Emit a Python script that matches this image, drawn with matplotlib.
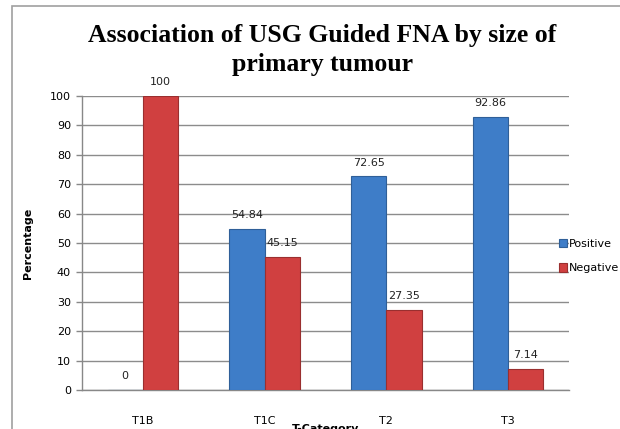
import matplotlib.pyplot as plt
import numpy as np
from matplotlib.patches import Rectangle

categories = ['T1B', 'T1C', 'T2', 'T3']
positive = [0, 54.84, 72.65, 92.86]
negative = [100, 45.15, 27.35, 7.14]
pos_labels = ['0', '54.84', '72.65', '92.86']
neg_labels = ['100', '45.15', '27.35', '7.14']

fig = plt.figure(figsize=(6.2, 4.29), dpi=100)
# outer chart frame (left and top edges visible)
fig.patches.append(Rectangle((12 / 620, -0.1), 1.2, (429 - 6) / 429 + 0.1,
                             transform=fig.transFigure, fill=False,
                             edgecolor='#a0a0a0', linewidth=1.2))
ax = fig.add_axes([82 / 620, 39 / 429, 487 / 620, 294 / 429])

x = np.arange(len(categories))
w = 0.29
b1 = ax.bar(x - w / 2, positive, w, color='#3e7dc8', edgecolor='#2f5f98',
            linewidth=0.8, label='Positive', zorder=3)
b2 = ax.bar(x + w / 2, negative, w, color='#d04040', edgecolor='#9a2f2f',
            linewidth=0.8, label='Negative', zorder=3)

for rect, lab in zip(b1, pos_labels):
    ax.text(rect.get_x() + rect.get_width() / 2, rect.get_height() + 3, lab,
            ha='center', va='bottom', fontsize=8, color='#222222')
for rect, lab in zip(b2, neg_labels):
    ax.text(rect.get_x() + rect.get_width() / 2, rect.get_height() + 3, lab,
            ha='center', va='bottom', fontsize=8, color='#222222')

ax.set_xlim(-0.5, 3.5)
ax.set_ylim(0, 100)
ax.set_yticks(range(0, 101, 10))
ax.set_xticks(x)
ax.set_xticklabels(categories)
ax.tick_params(axis='x', length=0, pad=19, labelsize=8)
ax.tick_params(axis='y', length=4, width=1, color='#888888', labelsize=8, pad=4)
ax.yaxis.grid(True, color='#8c8c8c', linewidth=1, zorder=0)
ax.set_axisbelow(True)
for s in ['top', 'right']:
    ax.spines[s].set_visible(False)
for s in ['left', 'bottom']:
    ax.spines[s].set_color('#888888')
    ax.spines[s].set_linewidth(1)

ax.set_ylabel('Percentage', fontsize=8, fontweight='bold', labelpad=12)
ax.set_xlabel('T-Category', fontsize=8, fontweight='bold', labelpad=-2)

fig.text(0.52, 1 - 50 / 429, 'Association of USG Guided FNA by size of\nprimary tumour',
         ha='center', va='center', fontsize=18.5, fontweight='bold',
         family='Liberation Serif', linespacing=1.3)

leg = fig.legend(handles=[b1, b2], loc='center left',
                 bbox_to_anchor=(553 / 620, 1 - 256 / 429), frameon=False,
                 fontsize=8, handlelength=0.8, handleheight=0.8,
                 handletextpad=0.15, labelspacing=1.3, borderpad=0)

fig.savefig('out.png', dpi=100)
